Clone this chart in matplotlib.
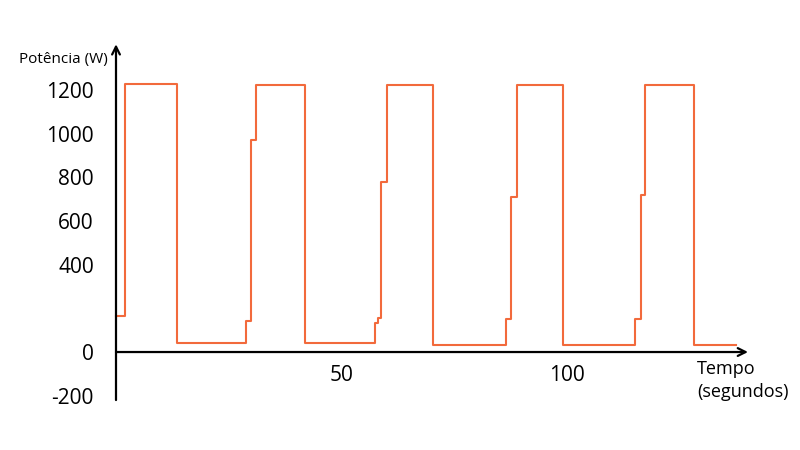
import matplotlib.pyplot as plt

plt.rcParams['font.family'] = ['Open Sans', 'DejaVu Sans']

# instantes (s) em que a potencia muda, e o valor a partir de cada instante
tempo = [0, 2.0, 13.5, 28.7, 29.9, 31.0, 41.9, 57.4, 58.0, 58.8, 60.0, 70.3,
         86.3, 87.5, 88.8, 99.0, 115.0, 116.2, 117.2, 128.1, 137.3]
potencia = [165, 1228, 42, 142, 970, 1223, 42, 131, 155, 780, 1223, 31,
            151, 711, 1223, 31, 151, 719, 1223, 31, 31]

yticks = [1200, 1000, 800, 600, 400, 0, -200]
xticks = [50, 100]
line_color = '#F26A3C'

fig = plt.figure(figsize=(8, 4.5), dpi=100)
ax = fig.add_axes([0.145, 0.111, 0.79, 0.7907])

ax.step(tempo, potencia, where='post', color=line_color, lw=1.5, clip_on=False)

ax.set_xlim(0, 140)
ax.set_ylim(-220, 1410)

for s in ax.spines.values():
    s.set_visible(False)
ax.spines['bottom'].set_position(('data', 0))

ax.set_yticks(yticks)
ax.set_yticklabels([str(v) for v in yticks])
ax.set_xticks(xticks)
ax.set_xticklabels([str(v) for v in xticks])
ax.tick_params(axis='y', length=0, pad=16, labelsize=15)
ax.tick_params(axis='x', length=0, pad=9, labelsize=15)

# eixos com seta
arrow = dict(arrowstyle='->', color='black', lw=1.6, mutation_scale=14,
             shrinkA=0, shrinkB=0)
ax.annotate('', xy=(0, 1410), xytext=(0, -220), arrowprops=arrow,
            annotation_clip=False)
ax.annotate('', xy=(140, 0), xytext=(0, 0), arrowprops=arrow,
            annotation_clip=False)

fig.text(0.024, 0.86, 'Potência (W)', fontsize=11, va='baseline', ha='left')
fig.text(0.871, 0.2, 'Tempo\n(segundos)', fontsize=13, va='top', ha='left',
         linespacing=1.35)

fig.savefig('out.png', dpi=100)
